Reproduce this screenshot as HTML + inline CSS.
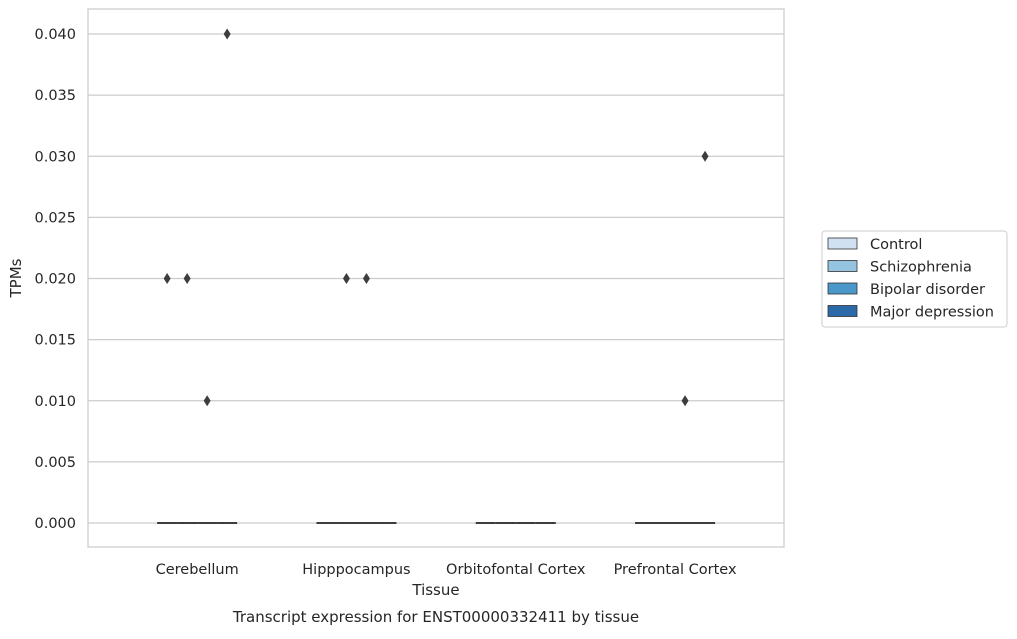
<!DOCTYPE html>
<html><head><meta charset="utf-8"><style>
body{margin:0;background:#fff;font-family:"Liberation Sans","DejaVu Sans",sans-serif;}
svg text{font-family:"DejaVu Sans","Liberation Sans",sans-serif;fill:#262626;}
</style></head><body>
<svg id="chart" width="1017" height="634" xmlns="http://www.w3.org/2000/svg">
<g id="grid"></g>
<g id="yticks"></g>
<g id="xticks"></g>
<g id="marks"></g>
<rect x="88" y="9" width="696" height="538" fill="none" stroke="#cccccc" stroke-width="1.25"/>
<text x="21" y="278" font-size="15" text-anchor="middle" transform="rotate(-90 21 278)">TPMs</text>
<text x="436" y="595" font-size="15" text-anchor="middle">Tissue</text>
<text x="436" y="622" font-size="15" text-anchor="middle">Transcript expression for ENST00000332411 by tissue</text>
<g>
<rect x="822" y="231" width="185" height="96" rx="3" fill="#fff" stroke="#cccccc"/>
<g id="legend"></g>
</g>
</svg>
<script>
const categories=["Cerebellum","Hipppocampus","Orbitofontal Cortex","Prefrontal Cortex"];
const hues=["Control","Schizophrenia","Bipolar disorder","Major depression"];
const colors=["#d0e1f2","#94c4df","#4a98c9","#2a6aa8"];
const yTicks=[0,0.005,0.01,0.015,0.02,0.025,0.03,0.035,0.04];
const medians=[[0,0,0,0],[0,0,0,0],[0,0,0,0],[0,0,0,0]];
const outlierCat=[0,0,0,0,1,1,3,3];
const outlierHue=[0,1,2,3,1,2,2,3];
const outlierVal=[0.02,0.02,0.01,0.04,0.02,0.02,0.01,0.03];
const NS="http://www.w3.org/2000/svg";
const x0=88,x1=784,yZero=523,yTop=34;
function y(v){return yZero-(v/0.04)*(yZero-yTop);}
const xStart=117.5,band=159.3;
function xc(i){return xStart+band*(i+0.5);}
const boxW=80,hw=boxW/hues.length;
function xh(i,h){return xc(i)-boxW/2+hw*(h+0.5);}
function mk(t,a,p){const e=document.createElementNS(NS,t);for(const k in a)e.setAttribute(k,a[k]);p.appendChild(e);return e;}
const grid=document.getElementById('grid'),yt=document.getElementById('yticks'),xt=document.getElementById('xticks'),marks=document.getElementById('marks'),lg=document.getElementById('legend');
yTicks.forEach(v=>{
 const l=mk('line',{x1:x0,x2:x1,y1:y(v),y2:y(v),stroke:'#cccccc','stroke-width':1.25},grid);
 
 
 const t=mk('text',{x:76,y:y(v)+5,'font-size':14.5,'text-anchor':'end'},yt);
 t.textContent=v.toFixed(3);
 
 
});
categories.forEach((c,i)=>{
 const t=mk('text',{x:xc(i),y:574,'font-size':14.5,'text-anchor':'middle'},xt);
 t.textContent=c;
 
 
 hues.forEach((h,j)=>{
  const m=mk('line',{x1:xh(i,j)-hw/2,x2:xh(i,j)+hw/2,y1:y(medians[i][j]),y2:y(medians[i][j]),stroke:'#3d3d3d','stroke-width':2},marks);
  
  
 });
});
outlierVal.forEach((v,k)=>{
 const cx=xh(outlierCat[k],outlierHue[k]),cy=y(v);
 const p=mk('path',{d:`M${cx},${cy-5.5}L${cx+3.5},${cy}L${cx},${cy+5.5}L${cx-3.5},${cy}Z`,fill:'#3d3d3d'},marks);
 
 
});
hues.forEach((h,j)=>{
 const yy=244+j*22.5;
 const r=mk('rect',{x:828,y:yy-6,width:29,height:11,fill:colors[j],stroke:'#333','stroke-width':0.8},lg);
 
 
 const t=mk('text',{x:870,y:yy+5,'font-size':14.5},lg);
 t.textContent=h;
 
 
});
</script>
</body></html>
